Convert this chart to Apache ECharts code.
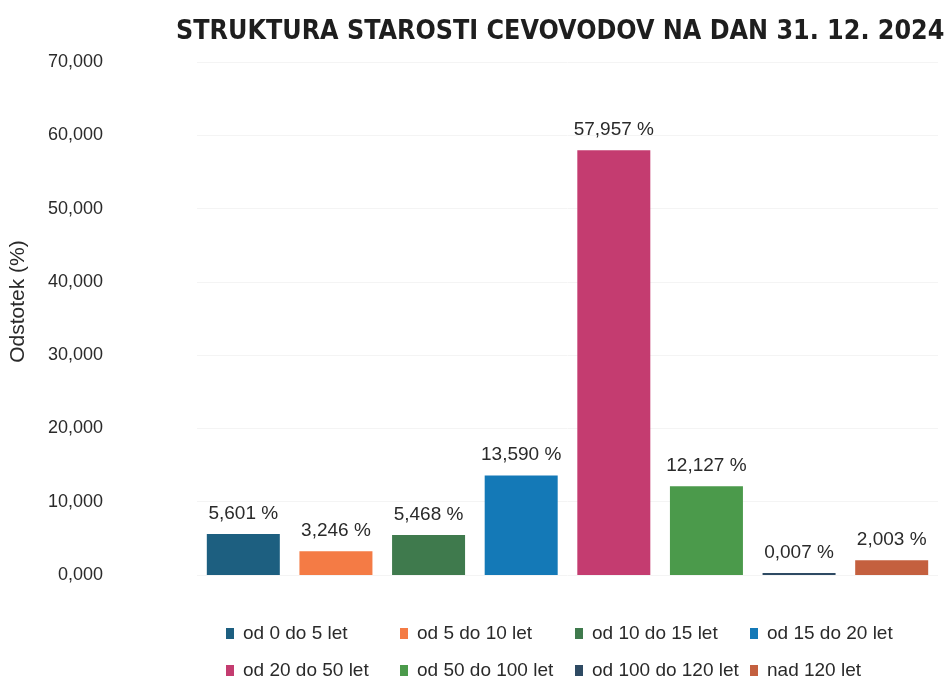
<!DOCTYPE html>
<html>
<head>
<meta charset="utf-8">
<script src="https://cdn.jsdelivr.net/npm/echarts@6/dist/echarts.min.js"></script>
<style>html,body{margin:0;padding:0;background:#fff;}#c{width:947px;height:679px;}</style>
</head>
<body>
<div id="c"></div>
<script>
const categories = ['od 0 do 5 let','od 5 do 10 let','od 10 do 15 let','od 15 do 20 let','od 20 do 50 let','od 50 do 100 let','od 100 do 120 let','nad 120 let'];
const values = [5.601, 3.246, 5.468, 13.590, 57.957, 12.127, 0.007, 2.003];
const yTicks = [0, 10, 20, 30, 40, 50, 60, 70];
const colors = ['#1d5f80','#f47b45','#3f7a4d','#1479b7','#c43c70','#4b9a4b','#2e4a63','#c4603f'];

const fmt = v => Number(v).toFixed(3).replace('.', ',');

const series = categories.map((name, i) => ({
  name: name,
  type: 'bar',
  stack: 'all',
  barWidth: 73,
  barMinHeight: 2,
  itemStyle: { color: colors[i] },
  label: {
    show: true, position: 'top', distance: 11,
    color: '#2a2a2a', fontSize: 19, fontFamily: 'Liberation Sans',
    formatter: p => fmt(p.value) + ' %'
  },
  data: categories.map((c, j) => j === i ? values[i] : '-')
}));

const colX = [226, 400, 575, 750];
const rowY = [624, 661];
const legends = categories.map((name, k) => ({
  orient: 'horizontal', left: colX[k % 4], top: rowY[Math.floor(k / 4)],
  itemWidth: 8, itemHeight: 11, icon: 'rect', padding: 0,
  textStyle: { fontSize: 19, color: '#2a2a2a', fontFamily: 'Liberation Sans', padding: [0,0,0,4] },
  data: [name]
}));

const chart = echarts.init(document.getElementById('c'));
chart.setOption({
  animation: false,
  title: {
    text: 'STRUKTURA STAROSTI CEVOVODOV NA DAN 31. 12. 2024',
    left: 171, top: 14,
    textStyle: { fontFamily: 'DejaVu Sans Condensed', fontWeight: 'bold', fontSize: 26.6, color: '#1e1e1e' }
  },
  legend: legends,
  grid: { left: 194, right: 9, top: 62, bottom: 104 },
  xAxis: {
    type: 'category', data: categories,
    axisLine: { show: false }, axisTick: { show: false }, axisLabel: { show: false }
  },
  yAxis: {
    type: 'value', min: yTicks[0], max: yTicks[yTicks.length - 1], interval: 10,
    name: 'Odstotek (%)', nameLocation: 'middle', nameGap: 168,
    nameTextStyle: { fontSize: 21, color: '#2a2a2a', fontFamily: 'Liberation Sans', padding: [0,0,0,34] },
    axisLine: { show: false }, axisTick: { show: false },
    splitLine: { lineStyle: { color: '#f4f4f4' } },
    axisLabel: { margin: 94, fontSize: 18, color: '#2a2a2a', fontFamily: 'Liberation Sans', formatter: v => fmt(v) }
  },
  series: series
});
</script>
</body>
</html>
